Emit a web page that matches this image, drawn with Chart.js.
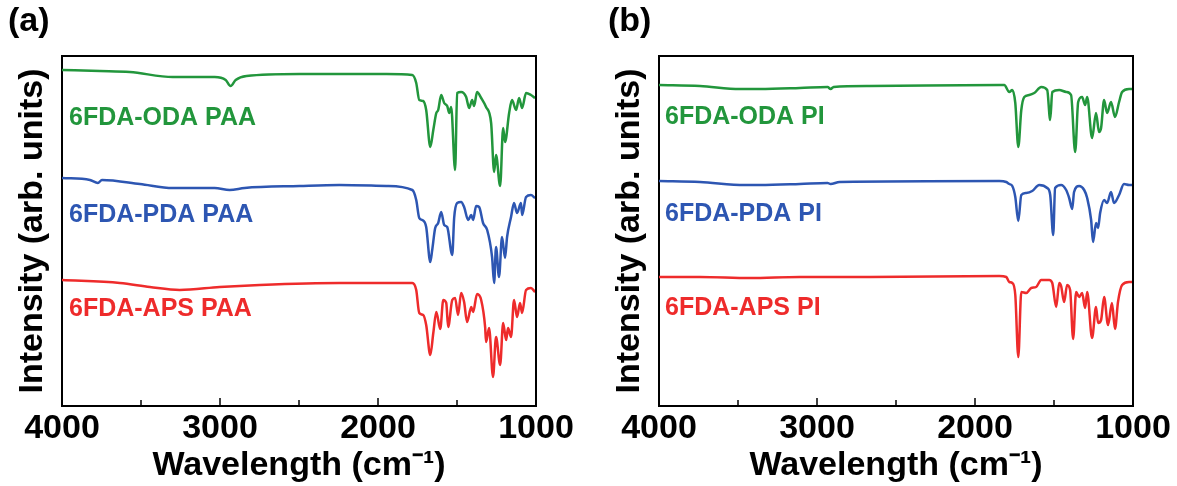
<!DOCTYPE html>
<html lang="en">
<head>
  <meta charset="UTF-8" />
  <title>FTIR spectra PAA / PI</title>
  <script src="https://cdn.jsdelivr.net/npm/chart.js"></script>
  <style>
    * { box-sizing: border-box; }
    body {
      margin: 0;
      width: 1177px;
      height: 486px;
      background: #ffffff;
      position: relative;
      overflow: hidden;
    }
    canvas { position: absolute; top: 0; }
    #panelA { left: 0; }
    #panelB { left: 597px; }
  </style>
</head>
<body>
  <canvas id="panelA" width="597" height="486"></canvas>
  <canvas id="panelB" width="580" height="486"></canvas>

  <script>
    // wavenumber ticks (cm-1)
    const xTicks = [4000, 3000, 2000, 1000];
    const minorTicks = [3500, 2500, 1500];

    // (a) PAA spectra, offset intensity (arb. units)
    const odaPaaX = [4000, 3760, 3571, 3299, 3034, 2964, 2933, 2901, 2832, 2497, 1947, 1783, 1758, 1739, 1714, 1695, 1669, 1650, 1631, 1619, 1600, 1581, 1562, 1549, 1537, 1512, 1499, 1474, 1442, 1423, 1404, 1392, 1373, 1347, 1316, 1284, 1265, 1253, 1227, 1208, 1196, 1170, 1152, 1126, 1107, 1088, 1063, 1032, 1006];
    const odaPaaY = [336, 335, 334, 329, 329, 326, 320, 326, 330, 332, 332, 331, 323, 306, 305, 296, 259, 276, 293, 296, 311, 303, 300, 293, 299, 236, 313, 314, 309, 298, 306, 300, 314, 308, 299, 283, 234, 251, 220, 278, 264, 293, 306, 296, 308, 298, 313, 311, 308];

    const pdaPaaX = [4000, 3823, 3773, 3747, 3507, 3299, 3034, 2939, 2844, 2497, 2244, 1947, 1783, 1758, 1739, 1720, 1695, 1669, 1657, 1638, 1619, 1600, 1581, 1562, 1530, 1518, 1499, 1474, 1455, 1429, 1410, 1398, 1379, 1360, 1335, 1309, 1278, 1265, 1253, 1234, 1215, 1196, 1183, 1158, 1139, 1120, 1095, 1088, 1063, 1032, 1006];
    const pdaPaaY = [228, 226, 223, 226, 222, 218, 218, 216, 218, 220, 221, 220, 216, 206, 188, 186, 179, 144, 156, 178, 183, 194, 181, 179, 151, 188, 203, 204, 199, 186, 191, 186, 200, 199, 183, 176, 149, 123, 159, 129, 169, 148, 169, 189, 203, 193, 203, 191, 209, 211, 208];

    const apsPaaX = [4000, 3634, 3444, 3255, 3002, 2749, 2244, 1783, 1758, 1739, 1714, 1695, 1669, 1650, 1631, 1606, 1587, 1568, 1556, 1530, 1512, 1493, 1474, 1455, 1436, 1410, 1398, 1373, 1347, 1322, 1316, 1297, 1272, 1253, 1227, 1208, 1189, 1177, 1158, 1139, 1120, 1101, 1088, 1063, 1032, 1006];
    const apsPaaY = [126, 123, 119, 116, 119, 121, 123, 123, 116, 93, 91, 81, 51, 73, 94, 77, 106, 103, 79, 106, 108, 91, 113, 104, 84, 99, 94, 112, 106, 79, 64, 78, 29, 69, 41, 83, 66, 78, 69, 106, 89, 103, 93, 116, 118, 114];

    // (b) PI spectra, offset intensity (arb. units)
    const odaPiX = [4000, 3741, 3488, 3362, 3109, 2933, 2914, 2895, 2667, 1846, 1815, 1783, 1764, 1745, 1726, 1707, 1688, 1657, 1625, 1581, 1543, 1524, 1511, 1467, 1423, 1392, 1366, 1347, 1322, 1303, 1290, 1259, 1234, 1215, 1202, 1183, 1164, 1139, 1114, 1088, 1069, 1025, 1000];
    const odaPiY = [321, 320, 317, 317, 318, 319, 317, 319, 320, 321, 321, 314, 316, 303, 259, 296, 309, 311, 313, 319, 316, 286, 314, 316, 314, 311, 254, 304, 309, 301, 309, 268, 293, 274, 278, 306, 293, 304, 289, 304, 314, 317, 317];

    const pdaPiX = [4000, 3741, 3457, 3362, 3109, 2933, 2914, 2857, 1846, 1802, 1783, 1764, 1745, 1726, 1707, 1676, 1638, 1594, 1543, 1524, 1505, 1493, 1455, 1423, 1404, 1385, 1373, 1341, 1309, 1290, 1265, 1253, 1234, 1221, 1208, 1183, 1164, 1139, 1120, 1088, 1057, 1025, 1000];
    const pdaPiY = [225, 224, 221, 221, 222, 223, 222, 224, 225, 224, 222, 220, 209, 185, 211, 213, 215, 221, 218, 211, 171, 218, 221, 216, 208, 197, 214, 220, 216, 208, 186, 164, 183, 178, 193, 206, 203, 214, 203, 211, 222, 221, 221];

    const apsPiX = [4000, 3741, 3425, 3109, 2667, 1846, 1802, 1783, 1764, 1745, 1726, 1707, 1676, 1644, 1613, 1581, 1530, 1511, 1486, 1467, 1455, 1436, 1417, 1398, 1379, 1360, 1341, 1322, 1303, 1290, 1259, 1234, 1221, 1202, 1183, 1158, 1133, 1114, 1095, 1069, 1025, 1000];
    const apsPiY = [129, 129, 128, 129, 129, 130, 129, 124, 123, 111, 49, 114, 113, 118, 119, 126, 126, 123, 99, 123, 120, 104, 121, 116, 67, 114, 109, 113, 98, 114, 68, 99, 83, 86, 109, 81, 103, 77, 104, 121, 124, 124];

    const GREEN = '#22963c';
    const BLUE = '#2d56b2';
    const RED = '#ee2b2b';
    const FONT = "'Liberation Sans', Arial, sans-serif";

    const toPoints = (xs, ys) => xs.map((x, i) => ({ x, y: ys[i] }));

    // box top/right + inward ticks + text labels
    const framePlugin = {
      id: 'frame',
      afterDraw(chart, args, opts) {
        const { ctx, chartArea: a, scales } = chart;
        ctx.save();
        ctx.strokeStyle = '#000';
        ctx.lineWidth = 2;
        ctx.beginPath();
        ctx.moveTo(a.left, a.top);
        ctx.lineTo(a.right, a.top);
        ctx.lineTo(a.right, a.bottom);
        ctx.stroke();

        ctx.lineWidth = 1.5;
        xTicks.slice(1, -1).forEach(v => {
          const px = scales.x.getPixelForValue(v);
          ctx.beginPath();
          ctx.moveTo(px, a.bottom);
          ctx.lineTo(px, a.bottom - 8);
          ctx.stroke();
        });
        minorTicks.forEach(v => {
          const px = scales.x.getPixelForValue(v);
          ctx.beginPath();
          ctx.moveTo(px, a.bottom);
          ctx.lineTo(px, a.bottom - 6);
          ctx.stroke();
        });

        ctx.textAlign = 'left';
        ctx.textBaseline = 'alphabetic';
        ctx.fillStyle = '#000';
        ctx.font = 'bold 34px ' + FONT;
        ctx.fillText(opts.letter, opts.letterX, 31);

        ctx.font = 'bold 25px ' + FONT;
        opts.items.forEach(it => {
          ctx.fillStyle = it.color;
          ctx.fillText(it.text, opts.labelX, it.y);
        });
        ctx.restore();
      }
    };

    function makePanel(id, series, padRight, letter, letterX, labelX, items) {
      return new Chart(document.getElementById(id), {
        type: 'line',
        data: {
          datasets: series.map(s => ({
            data: s.data,
            borderColor: s.color,
            borderWidth: 2.5,
            pointRadius: 0,
            fill: false,
            cubicInterpolationMode: 'monotone'
          }))
        },
        options: {
          responsive: false,
          animation: false,
          layout: { padding: { top: 56, right: padRight, bottom: 0, left: 0 } },
          plugins: {
            legend: { display: false },
            tooltip: { enabled: false },
            frame: { letter, letterX, labelX, items }
          },
          scales: {
            x: {
              type: 'linear',
              reverse: true,
              min: 1000,
              max: 4000,
              afterBuildTicks: s => { s.ticks = xTicks.map(v => ({ value: v })); },
              afterFit: s => { s.height = 80; },
              ticks: {
                color: '#000',
                padding: 2,
                maxRotation: 0,
                callback: v => String(v),
                font: { family: FONT, size: 34, weight: 'bold' }
              },
              grid: { drawOnChartArea: false, drawTicks: false },
              border: { color: '#000', width: 2 },
              title: {
                display: true,
                text: 'Wavelength (cm\u207B\u00B9)',
                color: '#000',
                padding: { top: 0, bottom: 0 },
                font: { family: FONT, size: 34, weight: 'bold' }
              }
            },
            y: {
              min: 0,
              max: 350,
              afterFit: s => { s.width = 62; },
              ticks: { display: false },
              grid: { drawOnChartArea: false, drawTicks: false },
              border: { color: '#000', width: 2 },
              title: {
                display: true,
                text: 'Intensity (arb. units)',
                color: '#000',
                padding: { top: 12, bottom: 0 },
                font: { family: FONT, size: 34, weight: 'bold' }
              }
            }
          }
        },
        plugins: [framePlugin]
      });
    }

    makePanel('panelA', [
      { data: toPoints(odaPaaX, odaPaaY), color: GREEN },
      { data: toPoints(pdaPaaX, pdaPaaY), color: BLUE },
      { data: toPoints(apsPaaX, apsPaaY), color: RED }
    ], 61, '(a)', 8, 69, [
      { text: '6FDA-ODA PAA', color: GREEN, y: 125 },
      { text: '6FDA-PDA PAA', color: BLUE, y: 222 },
      { text: '6FDA-APS PAA', color: RED, y: 316 }
    ]);

    makePanel('panelB', [
      { data: toPoints(odaPiX, odaPiY), color: GREEN },
      { data: toPoints(pdaPiX, pdaPiY), color: BLUE },
      { data: toPoints(apsPiX, apsPiY), color: RED }
    ], 44, '(b)', 11, 68, [
      { text: '6FDA-ODA PI', color: GREEN, y: 124 },
      { text: '6FDA-PDA PI', color: BLUE, y: 221 },
      { text: '6FDA-APS PI', color: RED, y: 315 }
    ]);
  </script>
</body>
</html>
